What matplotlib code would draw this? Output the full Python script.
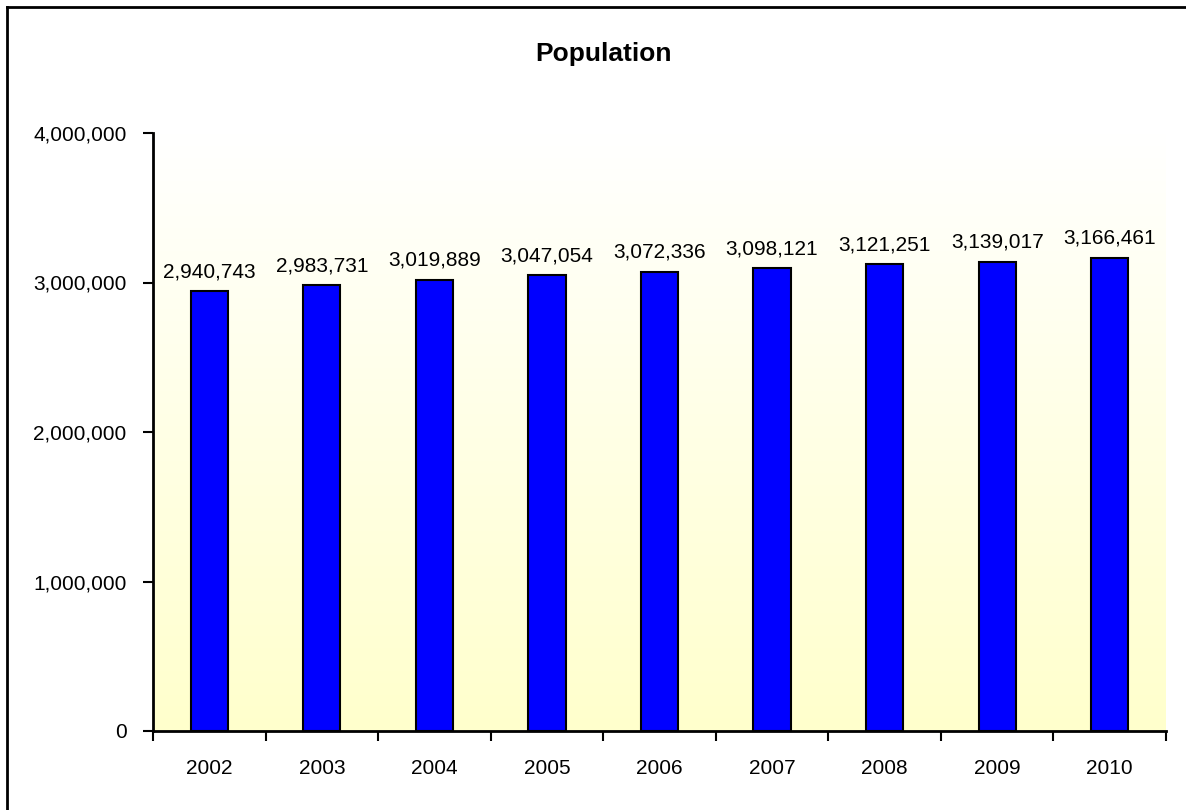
import numpy as np
import matplotlib
matplotlib.use("Agg")
import matplotlib.pyplot as plt
import matplotlib.ticker as ticker
from matplotlib.colors import LinearSegmentedColormap
from matplotlib.lines import Line2D

years = ["2002", "2003", "2004", "2005", "2006", "2007", "2008", "2009", "2010"]
population = [2940743, 2983731, 3019889, 3047054, 3072336, 3098121, 3121251, 3139017, 3166461]
y_ticks = [0, 1000000, 2000000, 3000000, 4000000]

plt.rcParams['font.family'] = ['Liberation Sans', 'DejaVu Sans']

fig = plt.figure(figsize=(11.86, 8.10), dpi=100)
ax = fig.add_axes([153 / 1186, 1 - 731 / 810, (1166 - 153) / 1186, (731 - 133) / 810])

# plot area background: white at top fading to pale yellow
cmap = LinearSegmentedColormap.from_list("bg", ["#FFFFFF", "#FFFFCC"])
grad = np.linspace(0, 1, 256).reshape(-1, 1)
ax.imshow(grad, cmap=cmap, aspect="auto", extent=[0, 1, 0, 1],
          transform=ax.transAxes, zorder=0)

x = np.arange(len(years))
bars = ax.bar(x, population, width=0.33, color="#0000FF", edgecolor="black",
              linewidth=1.5, zorder=2)

for xi, val in zip(x, population):
    ax.annotate(f"{val:,}", (xi, val), xytext=(0, 7), textcoords="offset points",
                ha="center", va="bottom", fontsize=15)

ax.set_xlim(-0.5, len(years) - 0.5)
ax.set_ylim(0, 4000000)
ax.set_yticks(y_ticks)
ax.yaxis.set_major_formatter(ticker.FuncFormatter(lambda v, p: f"{int(v):,}"))
ax.set_xticks(np.arange(-0.5, len(years), 1.0))
ax.set_xticklabels([])
ax.set_xticks(x, minor=True)
ax.set_xticklabels(years, minor=True)
ax.tick_params(axis="x", which="minor", length=0, pad=20, labelsize=15)
ax.tick_params(axis="x", which="major", direction="out", length=7, width=1.5)
ax.tick_params(axis="y", direction="out", length=7, width=1.5, pad=12, labelsize=15)

for side in ["top", "right"]:
    ax.spines[side].set_visible(False)
for side in ["left", "bottom"]:
    ax.spines[side].set_linewidth(2)

fig.text(604 / 1186, 1 - 54 / 810, "Population", ha="center", va="center",
         fontsize=19, fontweight="bold")

# chart border (only top and left edges visible in the crop)
fig.add_artist(Line2D([6.5 / 1186, 1], [1 - 7 / 810, 1 - 7 / 810],
                      transform=fig.transFigure, color="black", linewidth=2))
fig.add_artist(Line2D([6.5 / 1186, 6.5 / 1186], [0, 1 - 7 / 810],
                      transform=fig.transFigure, color="black", linewidth=2))

fig.savefig("out.png", dpi=100)
